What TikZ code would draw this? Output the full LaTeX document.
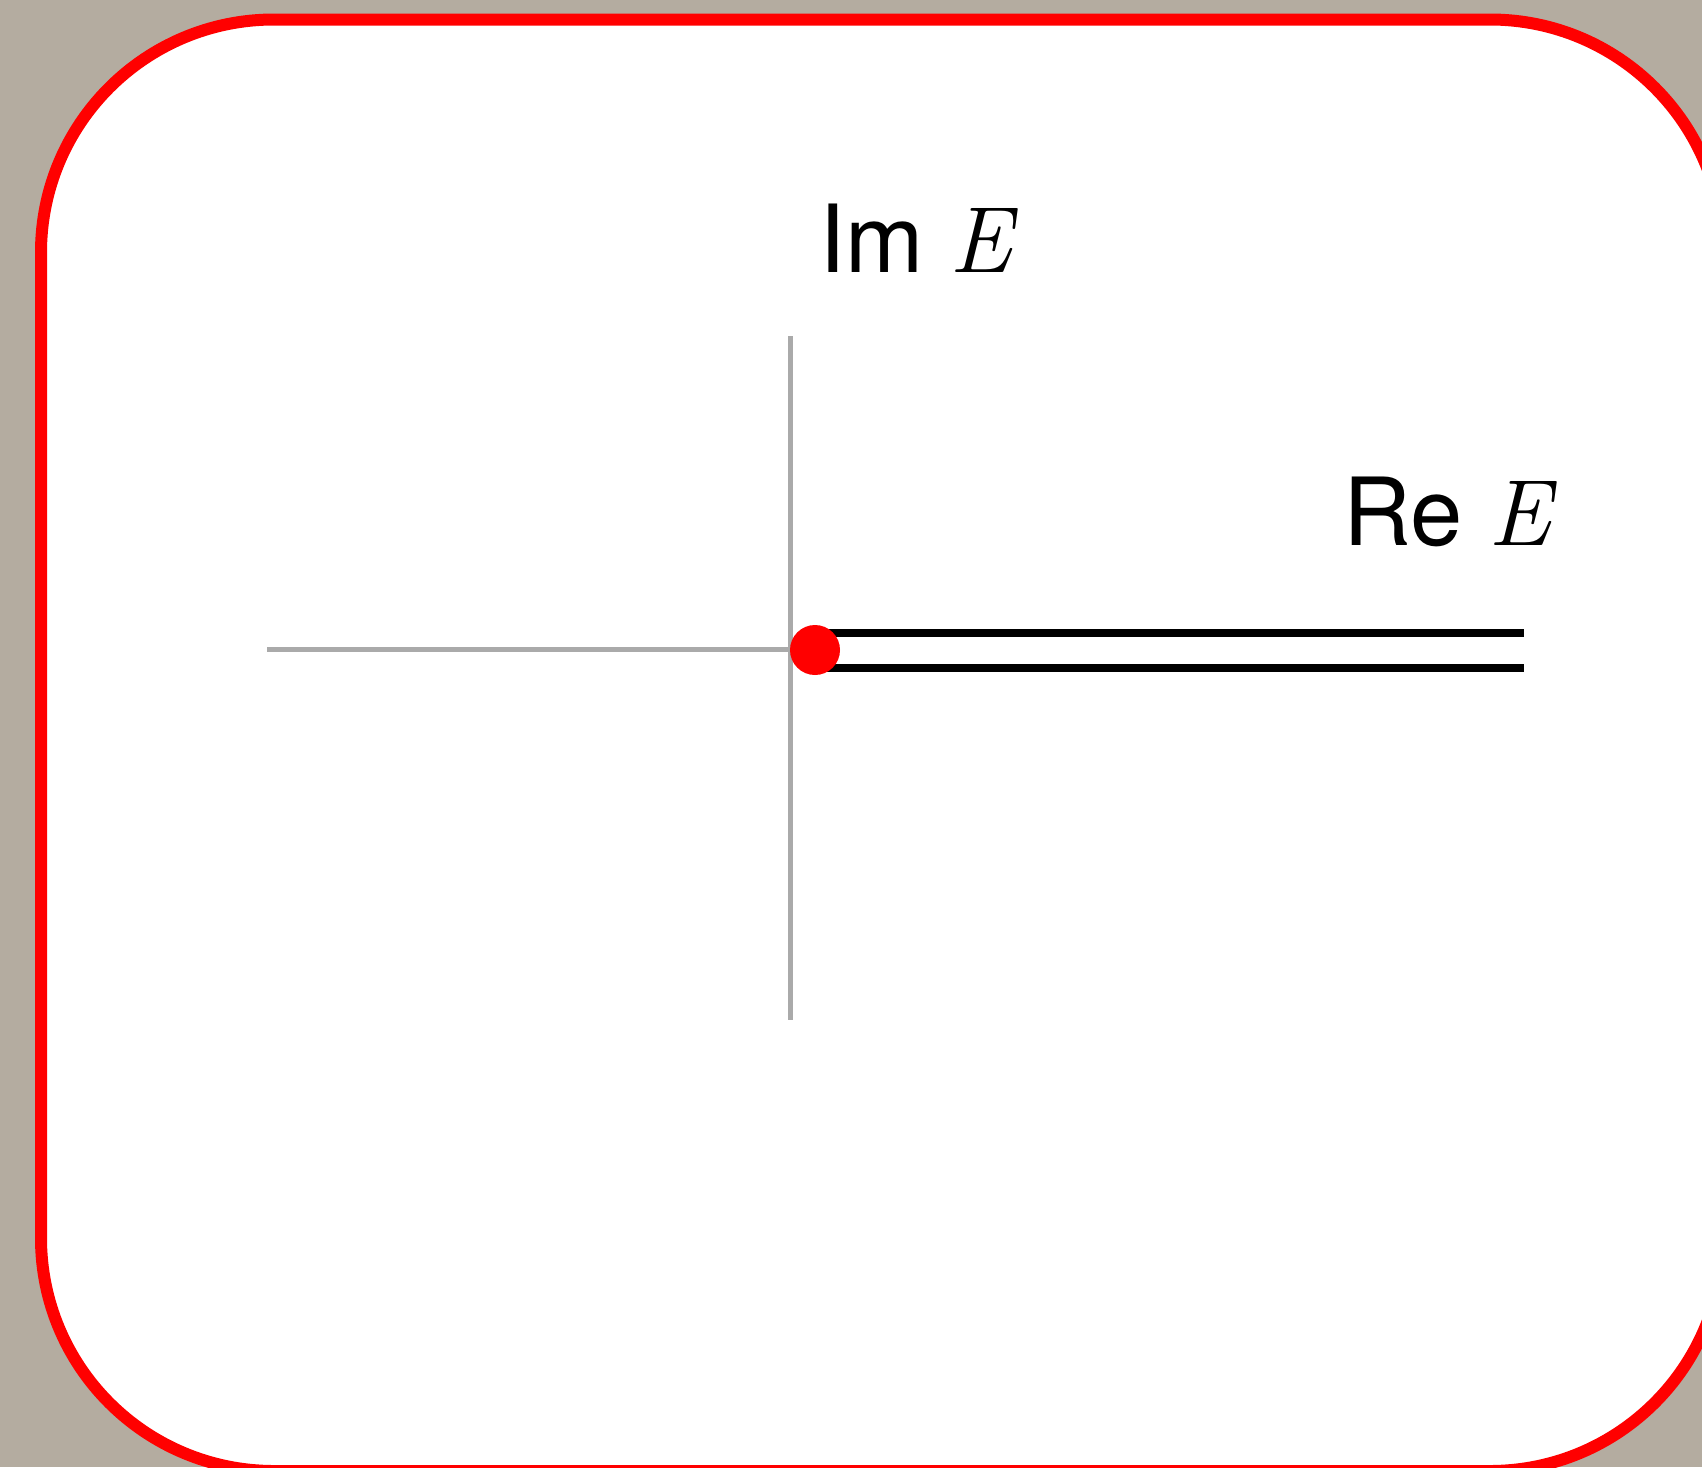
\documentclass[tikz,border=0pt]{standalone}
\usepackage{fontspec}
\setsansfont{TeX Gyre Heros}
\definecolor{paper}{RGB}{180,172,160}
\definecolor{axisgray}{RGB}{170,170,170}
\newcommand{\varE}{{\rmfamily\itshape E}}
\tikzset{
  axisline/.style={axisgray, line width=5pt},
  cutline/.style={black, line width=8pt},
  axislabel/.style={anchor=base west, inner sep=0pt, font=\sffamily\fontsize{94}{110}\selectfont},
}
\begin{document}
\begin{tikzpicture}[x=1pt,y=-1pt]
  % Page and card
  \useasboundingbox (0,0) rectangle (1702,1467);
  \clip (0,0) rectangle (1702,1467);
  \fill[paper] (0,0) rectangle (1702,1467);
  \draw[red, line width=12pt, fill=white, rounded corners=233pt] (41,19.5) rectangle (1723,1471);

  % Axes
  \coordinate (O) at (790,649);
  \coordinate (top) at (790,336);
  \coordinate (bottom) at (790,1020);
  \coordinate (left) at (267,649);
  \draw[axisline] (top) -- (bottom);
  \draw[axisline] (left) -- (O);

  % Branch cut
  \coordinate (cutA) at (815,633);
  \coordinate (cutB) at (1524,633);
  \coordinate (cutC) at (815,668);
  \coordinate (cutD) at (1524,668);
  \draw[cutline] (cutA) -- (cutB);
  \draw[cutline] (cutC) -- (cutD);

  % Branch point
  \node[circle, fill=red, inner sep=0pt, minimum size=50pt] (branch) at (815,650) {};

  % Labels
  \node[axislabel] (imlabel) at (819,272) {Im \varE};
  \node[axislabel] (relabel) at (1343,545) {Re \varE};
\end{tikzpicture}
\end{document}
